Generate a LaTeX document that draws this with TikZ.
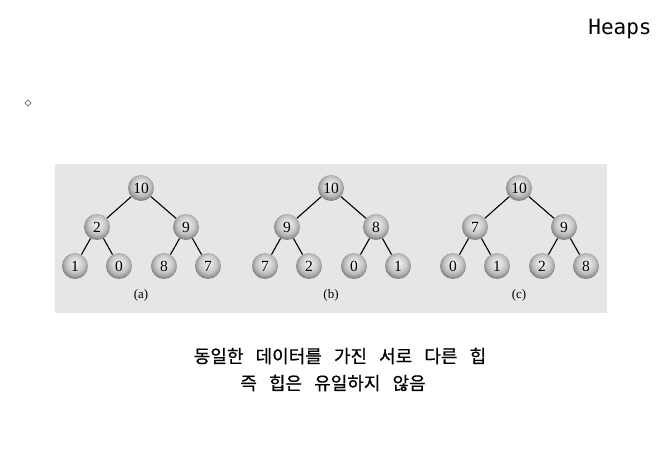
\documentclass[tikz,border=0pt]{standalone}
\usepackage{fontspec}
\setmainfont{Liberation Serif}
\newfontfamily\krfont[WordSpace=3,FakeBold=0.6]{Noto Sans CJK KR}
\newfontfamily\titlefont{DejaVu Sans Mono}
\usetikzlibrary{shapes,positioning,calc}
\definecolor{panelgray}{RGB}{230,230,230}
\pgfdeclareradialshading{heapball}{\pgfpoint{0bp}{7bp}}{color(0bp)=(gray!8); color(7bp)=(gray!22); color(17bp)=(gray!45); color(24bp)=(gray!78); color(25bp)=(gray!95); color(50bp)=(gray!95)}
\tikzset{
  heapnode/.style={circle, minimum size=26pt, inner sep=0pt, shading=heapball, font=\fontsize{15.5}{15.5}\selectfont},
  heapedge/.style={line width=1.1pt},
}

\begin{document}
\begin{tikzpicture}[x=1pt,y=-1pt]
    \useasboundingbox (0,0) rectangle (672,449);
    \node[anchor=base, font=\titlefont\fontsize{21}{21}\selectfont] (title) at (620,35) {Heaps};
    \draw[gray, line width=0.8pt] (28,100) -- (31,103) -- (28,106) -- (25,103) -- cycle;

    % three heaps with the same data
    \fill[panelgray] (55,164) rectangle (607,313);
    \foreach \cx/\tag/\nA/\nB/\nC/\nD/\nE/\nF/\nG in {141/a/10/2/9/1/0/8/7, 331/b/10/9/8/7/2/0/1, 519/c/10/7/9/0/1/2/8} {
        \node[heapnode] (\tag-root) at (\cx,188) {\nA};
        \node[heapnode] (\tag-l) at (\cx-44,227) {\nB};
        \node[heapnode] (\tag-r) at (\cx+45,227) {\nC};
        \node[heapnode] (\tag-ll) at (\cx-66,266) {\nD};
        \node[heapnode] (\tag-lr) at (\cx-22,266) {\nE};
        \node[heapnode] (\tag-rl) at (\cx+23,266) {\nF};
        \node[heapnode] (\tag-rr) at (\cx+67,266) {\nG};
        \draw[heapedge] (\tag-root) -- (\tag-l);
        \draw[heapedge] (\tag-root) -- (\tag-r);
        \draw[heapedge] (\tag-l) -- (\tag-ll);
        \draw[heapedge] (\tag-l) -- (\tag-lr);
        \draw[heapedge] (\tag-r) -- (\tag-rl);
        \draw[heapedge] (\tag-r) -- (\tag-rr);
        \node[font=\fontsize{13}{13}\selectfont] (\tag-name) at (\cx,295) {(\tag)};
    }

    \node[font=\krfont\fontsize{18}{18}\selectfont] (cap1) at (340,356) {동일한 데이터를 가진 서로 다른 힙};
    \node[font=\krfont\fontsize{18}{18}\selectfont] (cap2) at (333,383) {즉 힙은 유일하지 않음};
\end{tikzpicture}
\end{document}
